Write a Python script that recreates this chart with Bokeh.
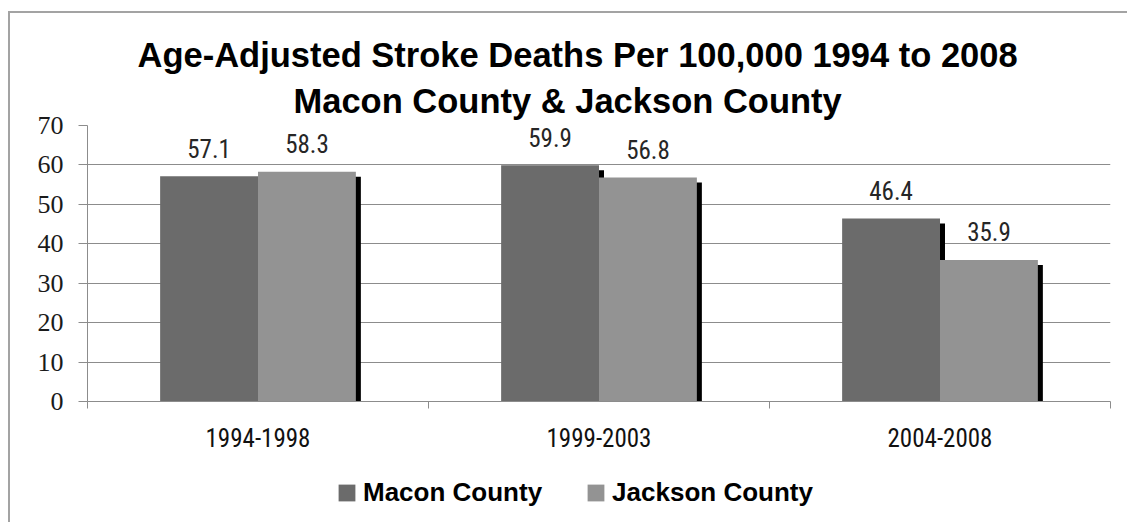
import numpy as np
from bokeh.plotting import figure
from bokeh.layouts import column
from bokeh.models import (ColumnDataSource, FixedTicker, Title, Legend, LegendItem, Range1d)
from bokeh.core.properties import value
from bokeh.embed import file_html
from bokeh.resources import INLINE

# Data
periods = ["1994-1998", "1999-2003", "2004-2008"]
macon = [57.1, 59.9, 46.4]
jackson = [58.3, 56.8, 35.9]
y_ticks = [0, 10, 20, 30, 40, 50, 60, 70]
series_names = ["Macon County", "Jackson County"]
title_line1 = "Age-Adjusted Stroke Deaths Per 100,000 1994 to 2008"
title_line2 = "Macon County & Jackson County"

# Styling
series_colors = ["#6b6b6b", "#939393"]
shadow_color = "#000000"
grid_color = "#8c8c8c"
NARROW = "'Roboto Condensed', 'DejaVu Sans Condensed', sans-serif"
FRAME_W, FRAME_H = 1023, 276
BORDER_L, BORDER_R, BORDER_T, BORDER_B = 77, 17, 112, 70
LEGEND_H = 51
BAR_W = 0.287          # width of one bar, as a fraction of a category
SHADOW_PX = 5          # drop shadow offset in screen pixels

n = len(periods)
centers = np.arange(n) + 0.5
x_min, x_max = 0, n
y_min, y_max = y_ticks[0], y_ticks[-1]
dx = SHADOW_PX * (x_max - x_min) / FRAME_W
dy = SHADOW_PX * (y_max - y_min) / FRAME_H

p = figure(frame_width=FRAME_W, frame_height=FRAME_H,
           x_range=Range1d(x_min, x_max), y_range=Range1d(y_min, y_max),
           output_backend="svg", toolbar_location=None,
           min_border_left=BORDER_L, min_border_right=BORDER_R,
           min_border_top=BORDER_T, min_border_bottom=BORDER_B)
p.outline_line_color = None
p.background_fill_color = "white"
p.border_fill_color = "white"

offsets = [-BAR_W / 2, BAR_W / 2]
series = [macon, jackson]

# drop shadows behind every bar, clipped at the baseline
for off, vals in zip(offsets, series):
    xs = centers + off
    src = ColumnDataSource(dict(
        left=xs - BAR_W / 2 + dx, right=xs + BAR_W / 2 + dx,
        top=np.array(vals) - dy, bottom=np.zeros(n)))
    p.quad(left="left", right="right", top="top", bottom="bottom", source=src,
           fill_color=shadow_color, line_color=None)

for off, vals, color in zip(offsets, series, series_colors):
    xs = centers + off
    src = ColumnDataSource(dict(x=xs, top=vals,
                                label=[f"{v:.1f}" for v in vals]))
    p.vbar(x="x", top="top", width=BAR_W, source=src,
           fill_color=color, line_color=None)
    p.text(x="x", y="top", text="label", source=src,
           text_align="center", text_baseline="alphabetic", y_offset=-28,
           text_font=value(NARROW), text_font_size="25px", text_color="#262626")

# axes
p.xgrid.visible = False
p.ygrid.ticker = FixedTicker(ticks=y_ticks)
p.ygrid.grid_line_color = grid_color

ya = p.yaxis[0]
ya.ticker = FixedTicker(ticks=y_ticks)
ya.axis_line_color = grid_color
ya.major_tick_line_color = grid_color
ya.major_tick_out = 9
ya.major_tick_in = 0
ya.minor_tick_line_color = None
ya.major_label_standoff = 15
ya.major_label_text_font = "Liberation Serif"
ya.major_label_text_font_size = "26px"
ya.major_label_text_color = "#1a1a1a"

xa = p.xaxis[0]
xa.ticker = FixedTicker(ticks=list(centers), minor_ticks=list(range(n + 1)))
xa.major_label_overrides = {float(c): lab for c, lab in zip(centers, periods)}
xa.axis_line_color = grid_color
xa.major_tick_line_color = None
xa.major_tick_out = 0
xa.major_tick_in = 0
xa.minor_tick_line_color = grid_color
xa.minor_tick_out = 7
xa.minor_tick_in = 0
xa.major_label_standoff = 19
xa.major_label_text_font = NARROW
xa.major_label_text_font_size = "25px"
xa.major_label_text_color = "#111111"

# two-line title
for text, off, stand in [(title_line2, 206, 12), (title_line1, 50, 0)]:
    p.add_layout(Title(text=text, align="left", offset=off,
                       text_font="Liberation Sans", text_font_style="bold",
                       text_font_size="34.5px", text_color="black",
                       standoff=stand), "above")

# legend strip underneath the chart
total_w = BORDER_L + FRAME_W + BORDER_R
leg = figure(width=total_w, height=LEGEND_H, output_backend="svg",
             toolbar_location=None, min_border=0,
             x_range=Range1d(0, 1), y_range=Range1d(0, 1))
leg.axis.visible = False
leg.grid.visible = False
leg.outline_line_color = None
leg.border_fill_color = "white"
swatches = []
for color in series_colors:
    # one placeholder row (NaN, never drawn) so the legend has a swatch to paint
    key = ColumnDataSource(dict(x=[np.nan], top=[np.nan]))
    swatches.append(leg.vbar(x="x", top="top", width=0.1, source=key,
                             fill_color=color, line_color=None))
legend = Legend(items=[LegendItem(label=nm, renderers=[r])
                       for nm, r in zip(series_names, swatches)],
                orientation="horizontal", location=(249, 14),
                glyph_width=21, glyph_height=21, label_standoff=6, spacing=43,
                padding=0, margin=0, border_line_color=None,
                background_fill_alpha=0,
                label_text_font="Liberation Sans", label_text_font_style="bold",
                label_text_font_size="26px", label_text_color="black")
leg.add_layout(legend)

layout = column(p, leg, spacing=0,
                styles={"margin-left": "8px", "margin-top": "11px",
                        "border-top": "2px solid #a3a3a3",
                        "border-left": "2px solid #a3a3a3"})

open("out.html", "w").write(file_html(layout, INLINE))
